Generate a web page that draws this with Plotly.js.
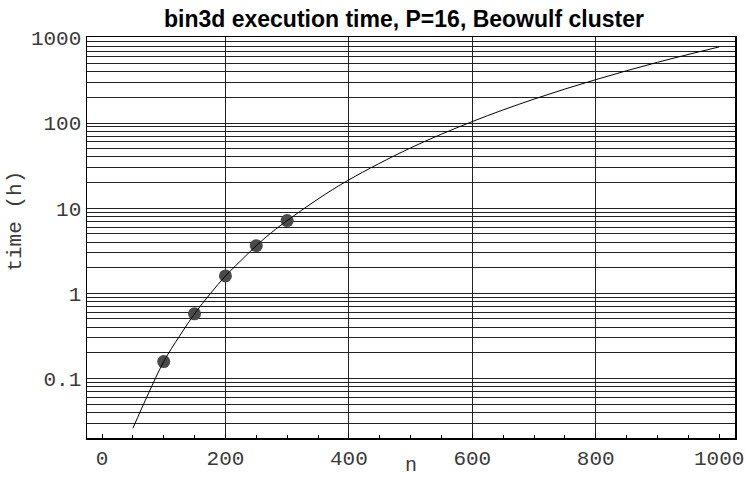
<!DOCTYPE html>
<html><head><meta charset="utf-8">
<script src="https://cdn.plot.ly/plotly-3.0.1.min.js"></script>
<style>html,body{margin:0;padding:0;background:#fff}</style>
</head><body><div id="chart" style="width:746px;height:477px"></div>
<script>
const measuredN = [100, 150, 200, 250, 300];
const measuredTime = [0.158, 0.575, 1.6, 3.63, 7.14];
const fitN = [50, 75, 100, 125, 150, 175, 200, 225, 250, 275, 300, 350, 400, 500, 600, 700, 800, 900, 1000];
const fitTime = [0.026, 0.066, 0.158, 0.31, 0.575, 0.98, 1.6, 2.42, 3.63, 5.2, 7.14, 12.8, 21.5, 51, 104, 191, 323, 516, 783];
const xTickVals = [0, 200, 400, 600, 800, 1000];
const xGridVals = [200, 400, 600, 800];
const yTickVals = [0.1, 1, 10, 100, 1000];
const yTickText = ['0.1', '1', '10', '100', '1000'];
const titleText = 'bin3d execution time, P=16, Beowulf cluster';
const xTitle = 'n';
const yTitle = 'time (h)';

const monoFont = {family: 'Liberation Mono, Courier New, monospace', size: 21, color: '#3a3a3a'};
const xRange = [-24.3, 1025.6];

const traces = [
  {x: fitN, y: fitTime, xaxis: 'x2', yaxis: 'y', mode: 'lines', type: 'scatter',
   line: {color: '#000', width: 1, shape: 'spline', smoothing: 1}, hoverinfo: 'skip', showlegend: false},
  {x: measuredN, y: measuredTime, mode: 'markers', type: 'scatter',
   marker: {color: '#4a4a4a', size: 13}, showlegend: false}
];

const layout = {
  width: 746, height: 477,
  margin: {l: 87, r: 11, t: 37, b: 39, pad: 0},
  paper_bgcolor: '#fff', plot_bgcolor: '#fff',
  showlegend: false,
  title: {text: titleText, x: 0.5415, xref: 'container', xanchor: 'center',
          y: 1 - 19 / 477, yref: 'container', yanchor: 'middle',
          font: {family: 'Liberation Sans, Arial, sans-serif', size: 23, weight: 'bold', color: '#000'}},
  xaxis: {range: xRange, tickmode: 'array', tickvals: xTickVals, ticks: 'inside', ticklen: 4,
          tickcolor: '#000', tickwidth: 1, showgrid: false, zeroline: false,
          showline: true, mirror: true, linecolor: '#000', linewidth: 1.5,
          minor: {tick0: 0, dtick: 50, ticks: 'inside', ticklen: 3, tickcolor: '#000', tickwidth: 1, showgrid: false},
          tickfont: monoFont},
  xaxis2: {range: xRange, overlaying: 'x', anchor: 'y', side: 'bottom', tickmode: 'array', tickvals: xGridVals,
           showgrid: true, gridcolor: '#222', gridwidth: 1, showticklabels: false, ticks: '',
           zeroline: false, showline: false},
  yaxis: {type: 'log', range: [-1.699, 3.01], tickmode: 'array', tickvals: yTickVals, ticktext: yTickText,
          showgrid: true, gridcolor: '#222', gridwidth: 1, ticks: '', zeroline: false,
          showline: true, mirror: true, linecolor: '#000', linewidth: 1.5,
          minor: {dtick: 'D1', showgrid: true, gridcolor: '#222', gridwidth: 1, ticks: ''},
          tickfont: monoFont},
  annotations: [
    {text: xTitle, xref: 'paper', yref: 'paper', x: 0.5, y: (438 - 479) / 401, xanchor: 'center', yanchor: 'bottom',
     showarrow: false, font: {family: monoFont.family, size: 20, color: monoFont.color}},
    {text: yTitle, xref: 'paper', yref: 'paper', x: -0.1103, y: 0.541, xanchor: 'center', yanchor: 'middle',
     textangle: -90, showarrow: false, font: monoFont}
  ]
};

Plotly.newPlot('chart', traces, layout, {displayModeBar: false, staticPlot: true});
</script>
</body></html>
